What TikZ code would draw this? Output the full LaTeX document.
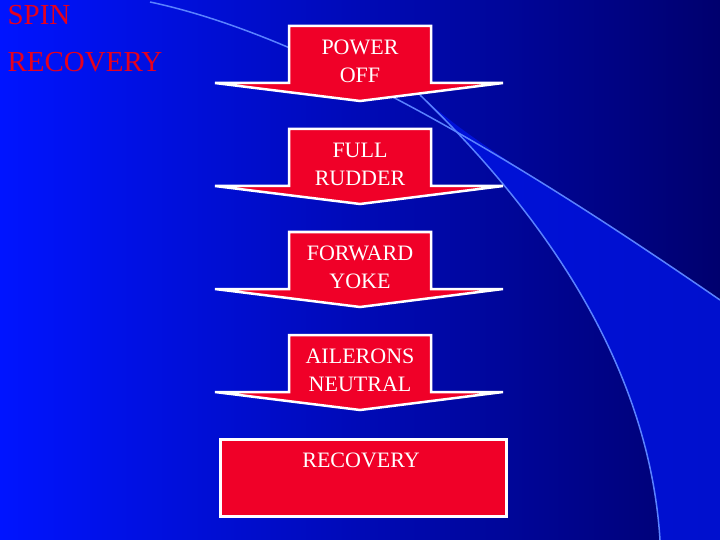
\documentclass[tikz,border=0pt]{standalone}
\usepackage{fontspec}
\setmainfont{Liberation Serif}
\definecolor{bgl}{RGB}{0,20,255}
\definecolor{bgr}{RGB}{0,0,110}
\definecolor{bgm}{RGB}{0,20,230}
\definecolor{curve}{RGB}{90,130,255}
\definecolor{arred}{RGB}{240,0,40}
\definecolor{ttlred}{RGB}{230,0,30}
\begin{document}
\begin{tikzpicture}[x=1pt,y=-1pt,
  arr/.style={fill=arred,draw=white,line width=2.5pt,line join=miter},
  lbl/.style={text=white,font=\fontsize{22}{28}\selectfont,align=center},
  ttl/.style={text=ttlred,font=\fontsize{29}{47}\selectfont,align=left,anchor=north west}]
\useasboundingbox (0,0) rectangle (720,540);
\shade[left color=bgl,right color=bgr] (0,0) rectangle (720,540);
\fill[bgm,opacity=0.8] (720,300) .. controls (560,190) and (480,150) .. (420,95) .. controls (560,230) and (650,380) .. (660,540) -- (720,540) -- cycle;
\draw[curve,line width=1.5pt] (150,2) .. controls (330,40) and (560,190) .. (720,300);
\draw[curve,line width=1.5pt] (420,95) .. controls (560,230) and (650,380) .. (660,540);
\node[ttl] (title) at (4,2) {SPIN\\RECOVERY};
\foreach \n/\t/\y in {a/{POWER\\OFF}/26, b/{FULL\\RUDDER}/129, c/{FORWARD\\YOKE}/232, d/{AILERONS\\NEUTRAL}/335}{
  \draw[arr] (289,\y) -- (431,\y) -- (431,\y+57) -- (503,\y+57) -- (360,\y+75) -- (215,\y+57) -- (289,\y+57) -- cycle;
  \node[lbl] (\n) at (360,\y+35) {\t};
}
\node[draw=white,line width=2.5pt,fill=arred,minimum width=286pt,minimum height=77pt,anchor=north west] (e) at (219,438) {};
\node[lbl,anchor=north] (et) at (361,449) {RECOVERY};
\end{tikzpicture}
\end{document}
